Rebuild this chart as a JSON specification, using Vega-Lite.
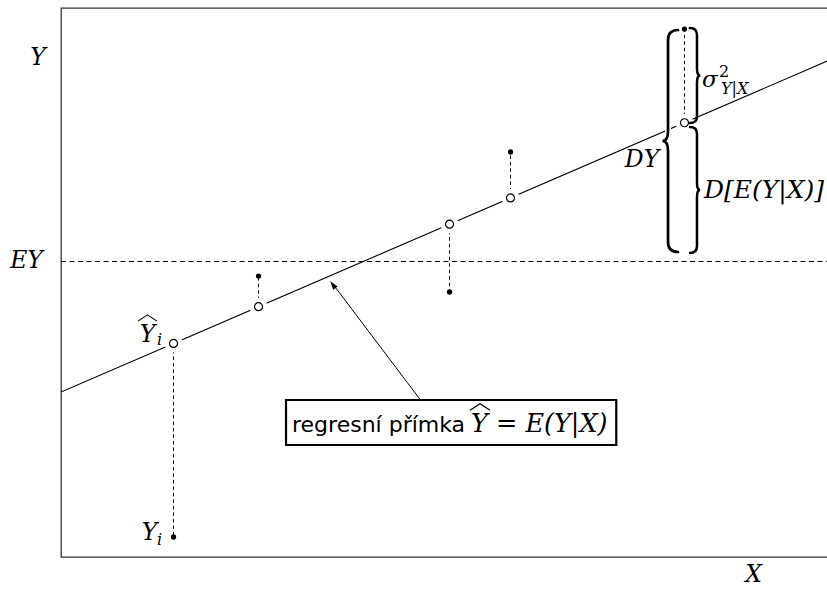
{
  "$schema": "https://vega.github.io/schema/vega-lite/v6.json",
  "width": 768,
  "height": 549,
  "autosize": {"type": "none"},
  "padding": {"left": 61, "top": 8, "right": 0, "bottom": 32},
  "background": "white",
  "config": {"view": {"stroke": "#333333", "strokeWidth": 1.3}},
  "datasets": {
    "obs": [
      {"x": 1.465, "fit": 3.890, "obs": 0.364},
      {"x": 2.572, "fit": 4.559, "obs": 5.118},
      {"x": 5.059, "fit": 6.062, "obs": 4.827},
      {"x": 5.853, "fit": 6.541, "obs": 7.377},
      {"x": 8.118, "fit": 7.910, "obs": 9.617}
    ]
  },
  "encoding": {
    "x": {"field": "x", "type": "quantitative", "scale": {"domain": [0, 10], "nice": false, "zero": false}, "axis": null}
  },
  "layer": [
    {
      "data": {"values": [{"x": 0, "y": 3.005}, {"x": 10, "y": 9.047}]},
      "mark": {"type": "line", "color": "black", "strokeWidth": 1.1, "clip": true},
      "encoding": {"y": {"field": "y", "type": "quantitative", "scale": {"domain": [0, 10], "nice": false, "zero": false}, "axis": null}}
    },
    {
      "data": {"values": [{"x": 0, "x2": 10, "y": 5.383}]},
      "mark": {"type": "rule", "color": "black", "strokeWidth": 1, "strokeDash": [5, 3.5]},
      "encoding": {
        "x2": {"field": "x2"},
        "y": {"field": "y", "type": "quantitative", "scale": {"domain": [0, 10], "nice": false, "zero": false}, "axis": null}
      }
    },
    {
      "data": {"name": "obs"},
      "mark": {"type": "rule", "color": "black", "strokeWidth": 1, "strokeDash": [3.5, 3]},
      "encoding": {
        "y": {"field": "fit", "type": "quantitative", "scale": {"domain": [0, 10], "nice": false, "zero": false}, "axis": null},
        "y2": {"field": "obs"}
      }
    },
    {
      "data": {"name": "obs"},
      "mark": {"type": "point", "shape": "circle", "filled": true, "color": "white", "opacity": 1, "size": 320, "strokeWidth": 0},
      "encoding": {
        "y": {"field": "fit", "type": "quantitative", "scale": {"domain": [0, 10], "nice": false, "zero": false}, "axis": null}
      }
    },
    {
      "data": {"name": "obs"},
      "mark": {"type": "point", "shape": "circle", "fill": "white", "stroke": "black", "strokeWidth": 1.2, "opacity": 1, "size": 64},
      "encoding": {
        "y": {"field": "fit", "type": "quantitative", "scale": {"domain": [0, 10], "nice": false, "zero": false}, "axis": null}
      }
    },
    {
      "data": {"name": "obs"},
      "mark": {"type": "circle", "color": "black", "opacity": 1, "size": 28},
      "encoding": {
        "y": {"field": "obs", "type": "quantitative", "scale": {"domain": [0, 10], "nice": false, "zero": false}, "axis": null}
      }
    },
    {
      "data": {"values": [{"x": 7.904, "y": 7.577}]},
      "mark": {"type": "point", "filled": false, "stroke": "white", "strokeWidth": 6, "opacity": 1, "size": 49284,
        "shape": "M0.09,-1 C0.03,-1 0,-0.97 0,-0.91 L0,-0.09 C0,-0.03 -0.02,0 -0.05,0 C-0.02,0 0,0.03 0,0.09 L0,0.91 C0,0.97 0.03,1 0.09,1"},
      "encoding": {"y": {"field": "y", "type": "quantitative", "scale": {"domain": [0, 10], "nice": false, "zero": false}, "axis": null}}
    },
    {
      "data": {"values": [{"x": 7.904, "y": 7.577}]},
      "mark": {"type": "point", "filled": false, "stroke": "black", "strokeWidth": 2.7, "opacity": 1, "size": 49284, "strokeCap": "round",
        "shape": "M0.09,-1 C0.03,-1 0,-0.97 0,-0.91 L0,-0.09 C0,-0.03 -0.02,0 -0.05,0 C-0.02,0 0,0.03 0,0.09 L0,0.91 C0,0.97 0.03,1 0.09,1"},
      "encoding": {"y": {"field": "y", "type": "quantitative", "scale": {"domain": [0, 10], "nice": false, "zero": false}, "axis": null}}
    },
    {
      "data": {"values": [{"x": 8.281, "y": 8.770}]},
      "mark": {"type": "point", "filled": false, "stroke": "black", "strokeWidth": 2.5, "opacity": 1, "size": 9025, "strokeCap": "round",
        "shape": "M-0.15,-1 C-0.05,-1 0,-0.95 0,-0.85 L0,-0.15 C0,-0.05 0.03,0 0.07,0 C0.03,0 0,0.05 0,0.15 L0,0.85 C0,0.95 -0.05,1 -0.15,1"},
      "encoding": {"y": {"field": "y", "type": "quantitative", "scale": {"domain": [0, 10], "nice": false, "zero": false}, "axis": null}}
    },
    {
      "data": {"values": [{"x": 8.281, "y": 6.685}]},
      "mark": {"type": "point", "filled": false, "stroke": "black", "strokeWidth": 2.5, "opacity": 1, "size": 15876, "strokeCap": "round",
        "shape": "M-0.11,-1 C-0.04,-1 0,-0.96 0,-0.89 L0,-0.11 C0,-0.04 0.02,0 0.05,0 C0.02,0 0,0.04 0,0.11 L0,0.89 C0,0.96 -0.04,1 -0.11,1"},
      "encoding": {"y": {"field": "y", "type": "quantitative", "scale": {"domain": [0, 10], "nice": false, "zero": false}, "axis": null}}
    },
    {
      "data": {"values": [
        {"x": -0.299, "y": 8.962, "text": "Y"},
        {"x": -0.449, "y": 5.264, "text": "EY"},
        {"x": 9.017, "y": -0.45, "text": "X"},
        {"x": 7.565, "y": 7.104, "text": "DY"},
        {"x": 1.126, "y": 3.916, "text": "Y"},
        {"x": 1.152, "y": 0.310, "text": "Y"}
      ]},
      "mark": {"type": "text", "font": "DejaVu Serif", "fontStyle": "italic", "fontSize": 23.5, "align": "center", "baseline": "alphabetic", "color": "black"},
      "encoding": {
        "y": {"field": "y", "type": "quantitative", "scale": {"domain": [0, 10], "nice": false, "zero": false}, "axis": null},
        "text": {"field": "text"}
      }
    },
    {
      "data": {"values": [
        {"x": 8.372, "y": 6.539, "text": "D[E(Y|X)]"}
      ]},
      "mark": {"type": "text", "font": "DejaVu Serif", "fontStyle": "italic", "fontSize": 25, "align": "left", "baseline": "alphabetic", "color": "black"},
      "encoding": {
        "y": {"field": "y", "type": "quantitative", "scale": {"domain": [0, 10], "nice": false, "zero": false}, "axis": null},
        "text": {"field": "text"}
      }
    },
    {
      "data": {"values": [
        {"x": 8.346, "y": 8.561, "text": "σ"}
      ]},
      "mark": {"type": "text", "font": "DejaVu Serif", "fontStyle": "italic", "fontSize": 23, "align": "left", "baseline": "alphabetic", "color": "black"},
      "encoding": {
        "y": {"field": "y", "type": "quantitative", "scale": {"domain": [0, 10], "nice": false, "zero": false}, "axis": null},
        "text": {"field": "text"}
      }
    },
    {
      "data": {"values": [
        {"x": 1.25, "y": 3.862, "text": "i"},
        {"x": 1.25, "y": 0.219, "text": "i"},
        {"x": 8.594, "y": 8.434, "text": "Y|X"}
      ]},
      "mark": {"type": "text", "font": "DejaVu Serif", "fontStyle": "italic", "fontSize": 16, "align": "left", "baseline": "alphabetic", "color": "black"},
      "encoding": {
        "y": {"field": "y", "type": "quantitative", "scale": {"domain": [0, 10], "nice": false, "zero": false}, "axis": null},
        "text": {"field": "text"}
      }
    },
    {
      "data": {"values": [{"x": 8.568, "y": 8.743, "text": "2"}]},
      "mark": {"type": "text", "font": "DejaVu Serif", "fontSize": 16, "align": "left", "baseline": "alphabetic", "color": "black"},
      "encoding": {
        "y": {"field": "y", "type": "quantitative", "scale": {"domain": [0, 10], "nice": false, "zero": false}, "axis": null},
        "text": {"field": "text"}
      }
    },
    {
      "data": {"values": [{"x": 1.126, "y": 4.353}]},
      "mark": {"type": "point", "filled": false, "stroke": "black", "strokeWidth": 1.1, "opacity": 1, "size": 361, "shape": "M-1,0.33 L0,-0.33 L1,0.33"},
      "encoding": {"y": {"field": "y", "type": "quantitative", "scale": {"domain": [0, 10], "nice": false, "zero": false}, "axis": null}}
    },
    {
      "data": {"values": [{"x": 4.701, "y": 2.823, "x2": 3.53, "y2": 4.99}]},
      "mark": {"type": "rule", "color": "black", "strokeWidth": 1},
      "encoding": {
        "x2": {"field": "x2"},
        "y": {"field": "y", "type": "quantitative", "scale": {"domain": [0, 10], "nice": false, "zero": false}, "axis": null},
        "y2": {"field": "y2"}
      }
    },
    {
      "data": {"values": [{"x": 3.503, "y": 5.027}]},
      "mark": {"type": "point", "filled": true, "color": "black", "opacity": 1, "size": 324, "angle": -37, "shape": "M0,0 L-0.3,1 L0.3,1 Z"},
      "encoding": {"y": {"field": "y", "type": "quantitative", "scale": {"domain": [0, 10], "nice": false, "zero": false}, "axis": null}}
    },
    {
      "data": {"values": [{"x": 2.93, "x2": 7.23, "y": 2.86, "y2": 2.04}]},
      "mark": {"type": "rect", "fill": "white", "stroke": "black", "strokeWidth": 2.2},
      "encoding": {
        "x2": {"field": "x2"},
        "y": {"field": "y", "type": "quantitative", "scale": {"domain": [0, 10], "nice": false, "zero": false}, "axis": null},
        "y2": {"field": "y2"}
      }
    },
    {
      "data": {"values": [{"x": 3.008, "y": 2.277, "text": "regresní přímka"}]},
      "mark": {"type": "text", "font": "DejaVu Sans", "fontSize": 22, "align": "left", "baseline": "alphabetic", "color": "black"},
      "encoding": {
        "y": {"field": "y", "type": "quantitative", "scale": {"domain": [0, 10], "nice": false, "zero": false}, "axis": null},
        "text": {"field": "text"}
      }
    },
    {
      "data": {"values": [{"x": 5.339, "y": 2.277, "text": "Y = E(Y|X)"}]},
      "mark": {"type": "text", "font": "DejaVu Serif", "fontStyle": "italic", "fontSize": 25.5, "align": "left", "baseline": "alphabetic", "color": "black"},
      "encoding": {
        "y": {"field": "y", "type": "quantitative", "scale": {"domain": [0, 10], "nice": false, "zero": false}, "axis": null},
        "text": {"field": "text"}
      }
    },
    {
      "data": {"values": [{"x": 5.456, "y": 2.732}]},
      "mark": {"type": "point", "filled": false, "stroke": "black", "strokeWidth": 1.1, "opacity": 1, "size": 400, "shape": "M-1,0.33 L0,-0.33 L1,0.33"},
      "encoding": {"y": {"field": "y", "type": "quantitative", "scale": {"domain": [0, 10], "nice": false, "zero": false}, "axis": null}}
    }
  ]
}
